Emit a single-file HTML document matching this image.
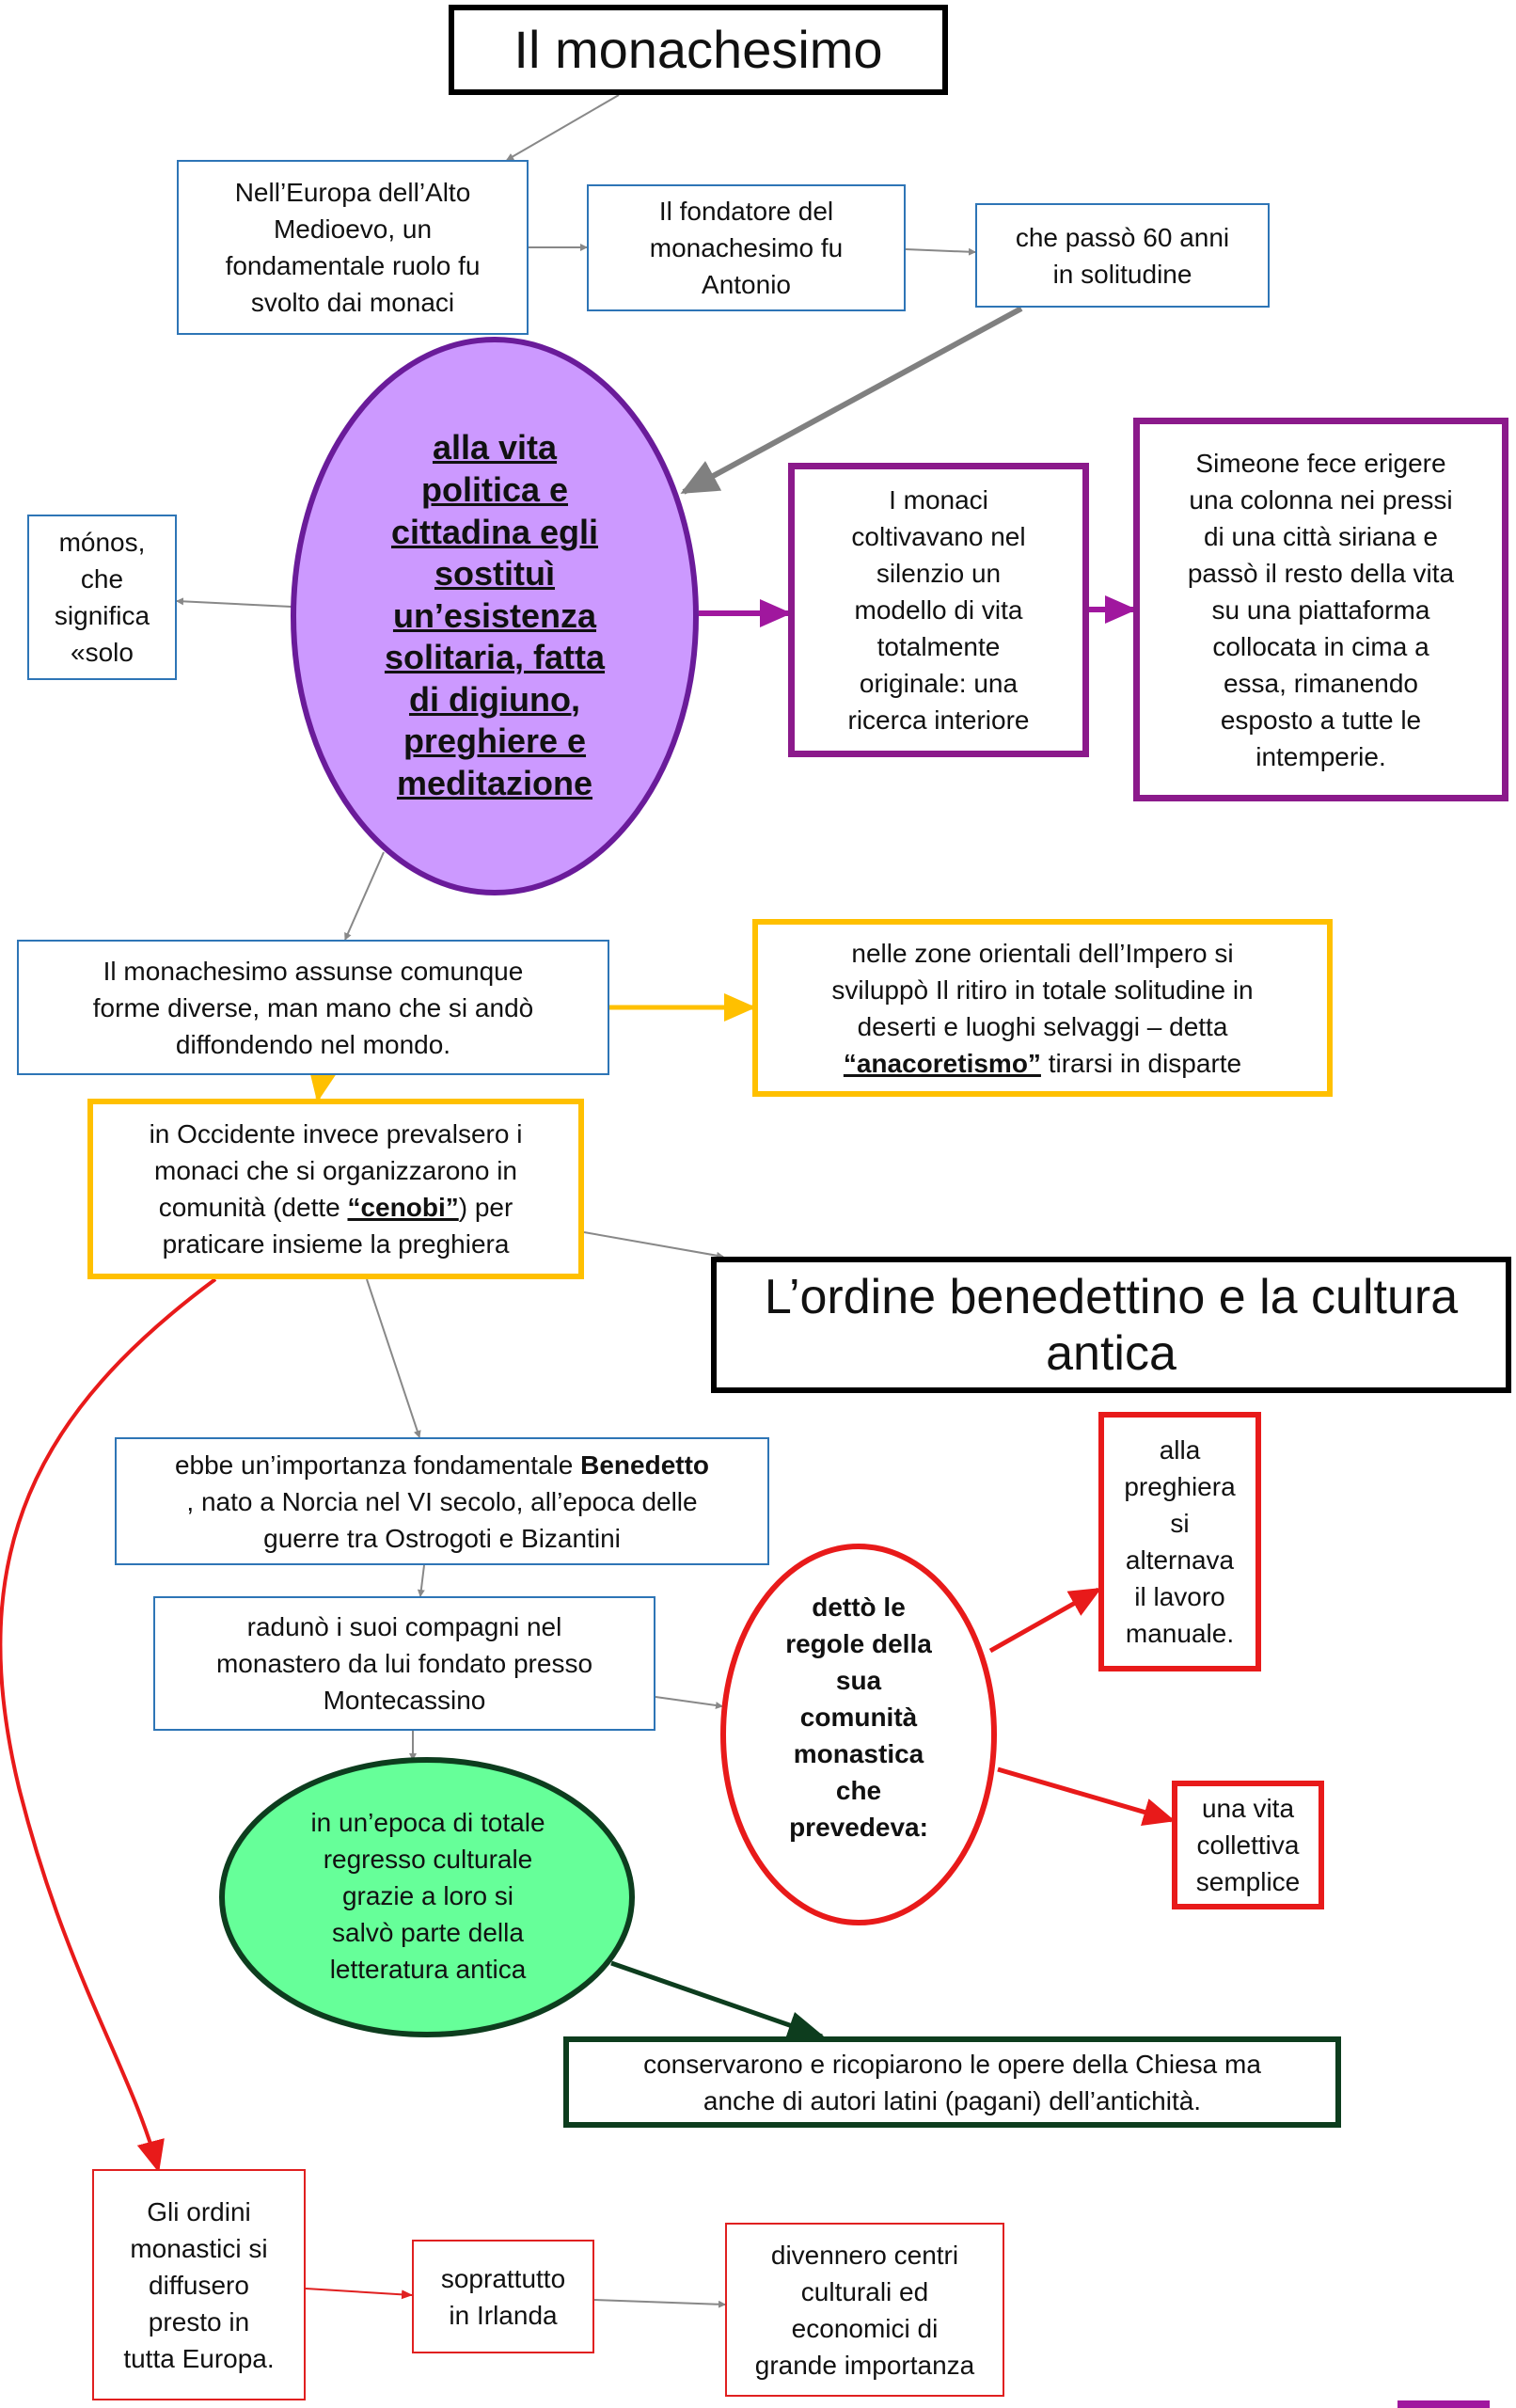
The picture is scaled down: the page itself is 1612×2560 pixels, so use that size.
<!DOCTYPE html>
<html><head><meta charset="utf-8"><style>
body{margin:0;width:1612px;height:2560px;background:#fff;position:relative;overflow:hidden;font-family:"Liberation Sans",Arial,sans-serif;color:#111}
.b{position:absolute;box-sizing:border-box;display:flex;align-items:center;justify-content:center;text-align:center;font-size:28px;line-height:39px;background:#fff}
.blue{border:2.5px solid #2e75b6}
.pur{border:7px solid #8b1a8b}
.yel{border:6px solid #ffc000}
.red{border:6px solid #e81a1a}
.redt{border:2.5px solid #e02020}
.blk{border:6px solid #000}
.t{position:absolute;text-align:center;display:flex;align-items:center;justify-content:center}
u{text-decoration-thickness:3px}
svg{position:absolute;left:0;top:0}
</style></head><body>
<svg width="1612" height="2560">
<defs>
<marker id="ag" markerWidth="8" markerHeight="8" refX="7" refY="4" orient="auto" markerUnits="userSpaceOnUse"><path d="M0,0L8,4L0,8z" fill="#888"/></marker>
<marker id="agb" markerWidth="40" markerHeight="36" refX="36" refY="18" orient="auto" markerUnits="userSpaceOnUse"><path d="M0,0L40,18L0,36z" fill="#808080"/></marker>
<marker id="ap" markerWidth="34" markerHeight="30" refX="30" refY="15" orient="auto" markerUnits="userSpaceOnUse"><path d="M0,0L34,15L0,30z" fill="#a0179e"/></marker>
<marker id="ay" markerWidth="34" markerHeight="30" refX="30" refY="15" orient="auto" markerUnits="userSpaceOnUse"><path d="M0,0L34,15L0,30z" fill="#ffc000"/></marker>
<marker id="ar" markerWidth="34" markerHeight="30" refX="30" refY="15" orient="auto" markerUnits="userSpaceOnUse"><path d="M0,0L34,15L0,30z" fill="#e81a1a"/></marker>
<marker id="ars" markerWidth="12" markerHeight="10" refX="11" refY="5" orient="auto" markerUnits="userSpaceOnUse"><path d="M0,0L12,5L0,10z" fill="#e02020"/></marker>
<marker id="adg" markerWidth="40" markerHeight="30" refX="36" refY="15" orient="auto" markerUnits="userSpaceOnUse"><path d="M0,0L40,15L0,30z" fill="#0d3d1e"/></marker>
</defs>
<g stroke="#888" stroke-width="2" fill="none">
<line x1="658" y1="101" x2="539" y2="170" marker-end="url(#ag)"/>
<line x1="562" y1="263" x2="624" y2="263" marker-end="url(#ag)"/>
<line x1="963" y1="265" x2="1037" y2="268" marker-end="url(#ag)"/>
<line x1="310" y1="645" x2="188" y2="639" marker-end="url(#ag)"/>
<line x1="408" y1="906" x2="367" y2="999" marker-end="url(#ag)"/>
<line x1="621" y1="1310" x2="769" y2="1336" marker-end="url(#ag)"/>
<line x1="390" y1="1360" x2="446" y2="1528" marker-end="url(#ag)"/>
<line x1="451" y1="1664" x2="447" y2="1697" marker-end="url(#ag)"/>
<line x1="697" y1="1804" x2="768" y2="1814" marker-end="url(#ag)"/>
<line x1="439" y1="1840" x2="439" y2="1871" marker-end="url(#ag)"/>
<line x1="632" y1="2445" x2="771" y2="2450" marker-end="url(#ag)"/>
</g>
<line x1="1086" y1="328" x2="727" y2="523" stroke="#808080" stroke-width="6" marker-end="url(#agb)"/>
<line x1="743" y1="652" x2="838" y2="652" stroke="#a0179e" stroke-width="6" marker-end="url(#ap)"/>
<line x1="1158" y1="648" x2="1205" y2="648" stroke="#a0179e" stroke-width="6" marker-end="url(#ap)"/>
<line x1="648" y1="1071" x2="800" y2="1071" stroke="#ffc000" stroke-width="5" marker-end="url(#ay)"/>
<line x1="343" y1="1140" x2="338" y2="1168" stroke="#ffc000" stroke-width="5" marker-end="url(#ay)"/>
<path d="M229,1360 C 40,1500 -40,1650 20,1900 C 70,2100 140,2200 168,2306" stroke="#e81a1a" stroke-width="4" fill="none" marker-end="url(#ar)"/>
<line x1="1053" y1="1755" x2="1168" y2="1690" stroke="#e81a1a" stroke-width="5" marker-end="url(#ar)"/>
<line x1="1061" y1="1881" x2="1246" y2="1935" stroke="#e81a1a" stroke-width="5" marker-end="url(#ar)"/>
<line x1="650" y1="2087" x2="874" y2="2165" stroke="#0d3d1e" stroke-width="5" marker-end="url(#adg)"/>
<line x1="325" y1="2433" x2="438" y2="2440" stroke="#e02020" stroke-width="2" marker-end="url(#ars)"/>
<ellipse cx="526" cy="655" rx="214" ry="294" fill="#cc99ff" stroke="#6a1b9a" stroke-width="6"/>
<ellipse cx="454" cy="2017" rx="218" ry="146" fill="#66ff99" stroke="#0d3d1e" stroke-width="6"/>
<ellipse cx="913" cy="1844" rx="144" ry="200" fill="#fff" stroke="#e81a1a" stroke-width="6"/>
<rect x="1486" y="2552" width="98" height="10" fill="#a0179e"/>
</svg>

<div class="b blk" style="left:477px;top:5px;width:531px;height:96px;font-size:56px;line-height:60px">Il monachesimo</div>
<div class="b blue" style="left:188px;top:170px;width:374px;height:186px">Nell’Europa dell’Alto<br>Medioevo, un<br>fondamentale ruolo fu<br>svolto dai monaci</div>
<div class="b blue" style="left:624px;top:196px;width:339px;height:135px">Il fondatore del<br>monachesimo fu<br>Antonio</div>
<div class="b blue" style="left:1037px;top:216px;width:313px;height:111px">che passò 60 anni<br>in solitudine</div>
<div class="b blue" style="left:29px;top:547px;width:159px;height:176px">mónos,<br>che<br>significa<br>«solo</div>
<div class="t" style="left:330px;top:455px;width:392px;height:400px;font-size:36px;line-height:44.6px;font-weight:bold"><div><u>alla vita </u><br><u>politica e </u><br><u>cittadina egli </u><br><u>sostituì </u><br><u>un’esistenza </u><br><u>solitaria, fatta </u><br><u>di digiuno, </u><br><u>preghiere e </u><br><u>meditazione</u></div></div>
<div class="b pur" style="left:838px;top:492px;width:320px;height:313px">I monaci<br>coltivavano nel<br>silenzio un<br>modello di vita<br>totalmente<br>originale: una<br>ricerca interiore</div>
<div class="b pur" style="left:1205px;top:444px;width:399px;height:408px">Simeone fece erigere<br>una colonna nei pressi<br>di una città siriana e<br>passò il resto della vita<br>su una piattaforma<br>collocata in cima a<br>essa, rimanendo<br>esposto a tutte le<br>intemperie.</div>
<div class="b blue" style="left:18px;top:999px;width:630px;height:144px">Il monachesimo assunse comunque<br>forme diverse, man mano che si andò<br>diffondendo nel mondo.</div>
<div class="b yel" style="left:800px;top:977px;width:617px;height:189px"><div>nelle zone orientali dell’Impero si<br>sviluppò Il ritiro in totale solitudine in<br>deserti e luoghi selvaggi – detta<br><b><u>“anacoretismo”</u></b> tirarsi in disparte</div></div>
<div class="b yel" style="left:93px;top:1168px;width:528px;height:192px"><div>in Occidente invece prevalsero i<br>monaci che si organizzarono in<br>comunità (dette <b><u>“cenobi”</u></b>) per<br>praticare insieme la preghiera</div></div>
<div class="b blk" style="left:756px;top:1336px;width:851px;height:145px;font-size:52px;line-height:60px">L’ordine benedettino e la cultura<br>antica</div>
<div class="b blue" style="left:122px;top:1528px;width:696px;height:136px"><div>ebbe un’importanza fondamentale <b>Benedetto</b><br>, nato a Norcia nel VI secolo, all’epoca delle<br>guerre tra Ostrogoti e Bizantini</div></div>
<div class="b blue" style="left:163px;top:1697px;width:534px;height:143px">radunò i suoi compagni nel<br>monastero da lui fondato presso<br>Montecassino</div>
<div class="t" style="left:260px;top:1915px;width:390px;height:200px;font-size:28px;line-height:39px">in un’epoca di totale<br>regresso culturale<br>grazie a loro si<br>salvò parte della<br>letteratura antica</div>
<div class="t" style="left:790px;top:1690px;width:246px;height:270px;font-size:28px;line-height:39px;font-weight:bold">dettò le<br>regole della<br>sua<br>comunità<br>monastica<br>che<br>prevedeva:</div>
<div class="b red" style="left:1168px;top:1501px;width:173px;height:276px">alla<br>preghiera<br>si<br>alternava<br>il lavoro<br>manuale.</div>
<div class="b red" style="left:1246px;top:1893px;width:162px;height:137px">una vita<br>collettiva<br>semplice</div>
<div class="b" style="left:599px;top:2165px;width:827px;height:97px;border:6px solid #0d3d1e">conservarono e ricopiarono le opere della Chiesa ma<br>anche di autori latini (pagani) dell’antichità.</div>
<div class="b redt" style="left:98px;top:2306px;width:227px;height:246px">Gli ordini<br>monastici si<br>diffusero<br>presto in<br>tutta Europa.</div>
<div class="b redt" style="left:438px;top:2381px;width:194px;height:121px">soprattutto<br>in Irlanda</div>
<div class="b redt" style="left:771px;top:2363px;width:297px;height:185px">divennero centri<br>culturali ed<br>economici di<br>grande importanza</div>
</body></html>
